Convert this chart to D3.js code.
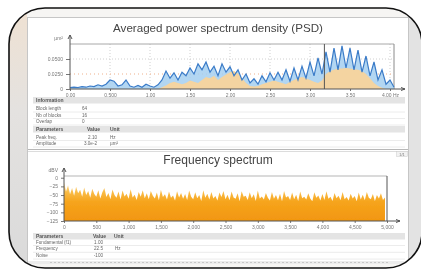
<!DOCTYPE html>
<html>
<head>
<meta charset="utf-8">
<script src="https://cdn.jsdelivr.net/npm/d3@7"></script>
<style>
  html, body { margin: 0; padding: 0; background: #fff; }
  svg { display: block; font-family: "Liberation Sans", Arial, sans-serif; }
</style>
</head>
<body>
<script>
// ---- data: averaged PSD (µm²), one value every 0.05 Hz from 0 Hz
const psdStep = 0.05;
const psdBlue = [
  0.0025, 0.003, 0.0025, 0.004, 0.003, 0.005, 0.004, 0.007, 0.005, 0.008,
  0.015, 0.013, 0.005, 0.007, 0.015, 0.005, 0.003, 0.006, 0.003, 0.008,
  0.005, 0.003, 0.007, 0.015, 0.030, 0.018, 0.027, 0.015, 0.028, 0.022,
  0.035, 0.025, 0.042, 0.032, 0.045, 0.028, 0.038, 0.022, 0.042, 0.028,
  0.037, 0.022, 0.032, 0.015, 0.025, 0.010, 0.017, 0.008, 0.022, 0.012,
  0.027, 0.015, 0.028, 0.015, 0.032, 0.013, 0.035, 0.015, 0.038, 0.018,
  0.045, 0.022, 0.052, 0.025, 0.062, 0.028, 0.068, 0.032, 0.072, 0.035,
  0.068, 0.032, 0.065, 0.028, 0.055, 0.022, 0.045, 0.015, 0.032, 0.008,
  0.015, 0.003
];
const psdOrange = [
  0, 0, 0, 0, 0, 0, 0, 0, 0, 0,
  0, 0, 0, 0, 0, 0, 0, 0, 0, 0,
  0, 0, 0, 0.003, 0.006, 0.010, 0.012, 0.010, 0.008, 0.010,
  0.014, 0.012, 0.010, 0.015, 0.020, 0.018, 0.022, 0.015, 0.020, 0.024,
  0.028, 0.030, 0.026, 0.018, 0.010, 0.005, 0.004, 0.005, 0.008, 0.010,
  0.012, 0.014, 0.012, 0.010, 0.008, 0.012, 0.015, 0.018, 0.020, 0.018,
  0.015, 0.012, 0.010, 0.014, 0.025, 0.030, 0.032, 0.034, 0.034, 0.035,
  0.034, 0.033, 0.032, 0.030, 0.025, 0.018, 0.010, 0.005, 0.002, 0,
  0, 0
];
const psdCursor = 3.18;
const psdXTicks = [0, 0.5, 1, 1.5, 2, 2.5, 3, 3.5, 4];
const psdXLabels = ['0.00', '0.500', '1.00', '1.50', '2.00', '2.50', '3.00', '3.50', '4.00 Hz'];
const psdYTicks = [0, 0.025, 0.05];
const psdYLabels = ['0', '0.0250', '0.0500'];

// ---- data: frequency spectrum (dBV), one value every 31.25 Hz
const specStep = 31.25;
const specDb = [
  -12, -40, -22, -48, -30, -52, -26, -45, -35, -55, -28, -50, -38, -58, -32, -47, -55, -36, -60, -42,
  -30, -56, -44, -62, -34, -50, -58, -40, -63, -37, -54, -46, -61, -33, -57, -49, -64, -41, -55, -36,
  -59, -45, -62, -38, -52, -60, -43, -65, -35, -56, -48, -63, -40, -58, -51, -66, -39, -57, -44, -61,
  -47, -64, -37, -55, -62, -42, -59, -50, -67, -36, -58, -46, -63, -41, -60, -53, -66, -43, -56, -38,
  -62, -49, -65, -40, -57, -61, -45, -68, -39, -55, -52, -64, -42, -59, -48, -67, -37, -60, -54, -63,
  -44, -58, -66, -41, -61, -50, -65, -46, -68, -38, -57, -53, -64, -43, -62, -49, -67, -40, -59, -55,
  -63, -45, -60, -68, -42, -58, -51, -66, -47, -64, -39, -61, -55, -67, -44, -59, -52, -65, -41, -62,
  -56, -66, -46, -60, -53, -68, -43, -63, -49, -65, -41, -58, -62, -47, -67, -50, -60, -45, -64, -57
];
const specXTicks = [0, 500, 1000, 1500, 2000, 2500, 3000, 3500, 4000, 4500, 5000];
const specYTicks = [0, -25, -50, -75, -100, -125];

// ---- tables
const infoRows = [['Block length', '64'], ['Nb of blocks', '16'], ['Overlap', '0']];
const psdParams = [['Peak freq.', '2.10', 'Hz'], ['Amplitude', '3.0e-2', 'µm²']];
const specParams = [['Fundamental (f1)', '1.00', ''], ['Frequency', '22.5', 'Hz'], ['Noise', '-100', '']];

const W = 421, H = 269;
const svg = d3.select('body').append('svg')
  .attr('width', W)
  .attr('height', H);

const defs = svg.append('defs');
// slight softness, the source is a downscaled screenshot
defs.append('filter').attr('id', 'soft')
  .append('feGaussianBlur').attr('stdDeviation', 0.35);

// clip to the rounded frame
defs.append('clipPath').attr('id', 'frameClip')
  .append('rect')
    .attr('x', 9).attr('y', 8).attr('width', 413).attr('height', 260).attr('rx', 36);

const root = svg.append('g')
  .attr('clip-path', 'url(#frameClip)')
  .append('g')
  .attr('filter', 'url(#soft)');

root.append('rect').attr('x', 0).attr('y', 0).attr('width', W).attr('height', H).attr('fill', '#f6f5f3');
// left blurred strip
const lg = defs.append('linearGradient').attr('id', 'leftStrip')
  .attr('x1', 0).attr('y1', 0).attr('x2', 0).attr('y2', 1);
lg.append('stop').attr('offset', '0%').attr('stop-color', '#efe1d2');
lg.append('stop').attr('offset', '40%').attr('stop-color', '#e4e2e0');
lg.append('stop').attr('offset', '100%').attr('stop-color', '#dadada');
root.append('rect').attr('x', 9).attr('y', 8).attr('width', 18).attr('height', 260).attr('fill', 'url(#leftStrip)');
// right strip
root.append('rect').attr('x', 409).attr('y', 8).attr('width', 14).attr('height', 260).attr('fill', '#e3e3e3');

// app window
root.append('rect').attr('x', 27.5).attr('y', 17.5).attr('width', 381).attr('height', 246)
  .attr('fill', '#fff').attr('stroke', '#c6c6c6');

// ===== top panel: PSD =====
root.append('text')
  .attr('x', 218).attr('y', 32)
  .attr('text-anchor', 'middle')
  .attr('font-size', 11.6)
  .attr('fill', '#444')
  .text('Averaged power spectrum density (PSD)');

const xPsd = d3.scaleLinear().domain([0, 4.05]).range([70, 394]);
const yPsd = d3.scaleLinear().domain([0, 0.075]).range([89, 44]);
const psd = psdBlue.map((v, i) => ({f: i * psdStep, b: v, o: psdOrange[i]}));

// grid
root.append('g').selectAll('line').data(psdXTicks.slice(1))
  .enter().append('line')
    .attr('x1', d => xPsd(d)).attr('x2', d => xPsd(d))
    .attr('y1', yPsd(0.075)).attr('y2', yPsd(0))
    .attr('stroke', '#cfcfcf').attr('stroke-dasharray', '1,2');
root.append('line')
  .attr('x1', xPsd(0)).attr('x2', xPsd(4.05))
  .attr('y1', yPsd(0.05)).attr('y2', yPsd(0.05))
  .attr('stroke', '#d0d0d0').attr('stroke-dasharray', '1,2');
root.append('line')
  .attr('x1', xPsd(0)).attr('x2', xPsd(4.05))
  .attr('y1', yPsd(0.025)).attr('y2', yPsd(0.025))
  .attr('stroke', '#efb08a').attr('stroke-dasharray', '1,3');
root.append('line')
  .attr('x1', xPsd(0)).attr('x2', xPsd(4.05))
  .attr('y1', yPsd(0.075)).attr('y2', yPsd(0.075))
  .attr('stroke', '#a8a8a8');
root.append('line')
  .attr('x1', xPsd(4.05)).attr('x2', xPsd(4.05))
  .attr('y1', yPsd(0.075)).attr('y2', yPsd(0))
  .attr('stroke', '#8a8a8a');

const blueArea = d3.area().x(d => xPsd(d.f)).y0(yPsd(0)).y1(d => yPsd(d.b));
const orangeArea = d3.area().x(d => xPsd(d.f)).y0(yPsd(0)).y1(d => yPsd(d.o));
const blueLine = d3.line().x(d => xPsd(d.f)).y(d => yPsd(d.b));

root.append('path').attr('d', blueArea(psd)).attr('fill', '#a5cff0').attr('opacity', 0.85);
root.append('path').attr('d', orangeArea(psd)).attr('fill', '#f8d49c').attr('opacity', 0.95);
root.append('path').attr('d', blueLine(psd))
  .attr('fill', 'none').attr('stroke', '#3a7bc8').attr('stroke-width', 1.2);

// cursor
root.append('line')
  .attr('x1', xPsd(psdCursor)).attr('x2', xPsd(psdCursor))
  .attr('y1', yPsd(0.075)).attr('y2', yPsd(0))
  .attr('stroke', '#555').attr('stroke-width', 1);

// axes
function styleAxis(g) {
  g.select('.domain').remove();
  g.selectAll('line').attr('stroke', '#777');
  g.selectAll('text').attr('fill', '#777').attr('font-size', 5).attr('font-family', '"Liberation Sans", Arial, sans-serif');
}
root.append('g')
  .attr('transform', 'translate(' + xPsd(0) + ',0)')
  .call(d3.axisLeft(yPsd).tickValues(psdYTicks).tickSize(4).tickPadding(3)
    .tickFormat((d, i) => psdYLabels[i]))
  .call(styleAxis);
root.append('g')
  .attr('transform', 'translate(0,' + yPsd(0) + ')')
  .call(d3.axisBottom(xPsd).tickValues(psdXTicks).tickSize(2).tickPadding(2)
    .tickFormat((d, i) => psdXLabels[i]))
  .call(styleAxis);
root.append('text').attr('x', xPsd(0) - 7).attr('y', 40).attr('text-anchor', 'end')
  .attr('font-size', 5).attr('fill', '#777').text('µm²');

function arrowAxes(x0, y0, yTop, xRight) {
  root.append('line').attr('x1', x0).attr('x2', x0).attr('y1', y0).attr('y2', yTop)
    .attr('stroke', '#555');
  root.append('path').attr('d', `M${x0 - 2},${yTop + 4}L${x0},${yTop}L${x0 + 2},${yTop + 4}`)
    .attr('fill', 'none').attr('stroke', '#555');
  root.append('line').attr('x1', x0).attr('x2', xRight).attr('y1', y0).attr('y2', y0)
    .attr('stroke', '#555');
  root.append('path').attr('d', `M${xRight - 4},${y0 - 1.5}L${xRight},${y0}L${xRight - 4},${y0 + 1.5}`)
    .attr('fill', 'none').attr('stroke', '#555');
}
arrowAxes(xPsd(0), yPsd(0), 35, 405);

// tables
function headerBand(y, cols) {
  root.append('rect').attr('x', 33).attr('y', y - 5).attr('width', 372).attr('height', 6.5)
    .attr('fill', '#e4e4e4');
  cols.forEach(c => {
    root.append('text').attr('x', c[0]).attr('y', y).attr('text-anchor', c[2] || 'start')
      .attr('font-size', 5).attr('font-weight', 'bold').attr('fill', '#555').text(c[1]);
  });
}
function rowLines(y) {
  root.append('line').attr('x1', 33).attr('x2', 405).attr('y1', y + 2).attr('y2', y + 2)
    .attr('stroke', '#ececec');
}
function smallText(x, y, t, anchor) {
  root.append('text').attr('x', x).attr('y', y).attr('text-anchor', anchor || 'start')
    .attr('font-size', 4.6).attr('fill', '#666').text(t);
}

headerBand(102, [[36, 'Information']]);
infoRows.forEach((r, i) => {
  const y = 110 + i * 6.5;
  smallText(36, y, r[0]);
  smallText(82, y, r[1]);
  rowLines(y);
});
headerBand(131, [[36, 'Parameters'], [87, 'Value'], [110, 'Unit']]);
psdParams.forEach((r, i) => {
  const y = 138.5 + i * 6.5;
  smallText(36, y, r[0]);
  smallText(97, y, r[1], 'end');
  smallText(110, y, r[2]);
  rowLines(y);
});

// panel separator
root.append('line').attr('x1', 28).attr('x2', 408).attr('y1', 149.5).attr('y2', 149.5).attr('stroke', '#b8b8b8');
root.append('line').attr('x1', 28).attr('x2', 408).attr('y1', 151.5).attr('y2', 151.5).attr('stroke', '#dcdcdc');
root.append('rect').attr('x', 396.5).attr('y', 151.5).attr('width', 11).attr('height', 5)
  .attr('fill', '#f2f2f2').attr('stroke', '#ccc').attr('stroke-width', 0.5);
root.append('text').attr('x', 402).attr('y', 155.5).attr('text-anchor', 'middle')
  .attr('font-size', 3.8).attr('fill', '#777').text('1/1');

// ===== bottom panel: frequency spectrum =====
root.append('text')
  .attr('x', 218).attr('y', 164)
  .attr('text-anchor', 'middle')
  .attr('font-size', 12)
  .attr('fill', '#444')
  .text('Frequency spectrum');

const xSpec = d3.scaleLinear().domain([0, 5000]).range([64, 387]);
const ySpec = d3.scaleLinear().domain([-125, 5]).range([221, 176]);

const sg = defs.append('linearGradient').attr('id', 'specFill')
  .attr('gradientUnits', 'userSpaceOnUse')
  .attr('x1', 0).attr('y1', ySpec(-125)).attr('x2', 0).attr('y2', ySpec(-15));
sg.append('stop').attr('offset', '0%').attr('stop-color', '#f29610');
sg.append('stop').attr('offset', '50%').attr('stop-color', '#f6a41c');
sg.append('stop').attr('offset', '75%').attr('stop-color', '#f9bb45');
sg.append('stop').attr('offset', '100%').attr('stop-color', '#fde0a0');

root.append('line')
  .attr('x1', xSpec(0)).attr('x2', xSpec(5000))
  .attr('y1', ySpec(5)).attr('y2', ySpec(5))
  .attr('stroke', '#b5b5b5');

const specArea = d3.area()
  .x((d, i) => xSpec(i * specStep))
  .y0(ySpec(-125))
  .y1(d => ySpec(d));
root.append('path').datum(specDb)
  .attr('d', specArea)
  .attr('fill', 'url(#specFill)');

root.append('line')
  .attr('x1', xSpec(5000)).attr('x2', xSpec(5000))
  .attr('y1', ySpec(5)).attr('y2', ySpec(-125))
  .attr('stroke', '#555');

root.append('g')
  .attr('transform', 'translate(' + xSpec(0) + ',0)')
  .call(d3.axisLeft(ySpec).tickValues(specYTicks).tickSize(3).tickPadding(3))
  .call(styleAxis);
root.append('g')
  .attr('transform', 'translate(0,' + ySpec(-125) + ')')
  .call(d3.axisBottom(xSpec).tickValues(specXTicks).tickSize(2).tickPadding(2))
  .call(styleAxis);
root.append('text').attr('x', xSpec(0) - 6).attr('y', 172).attr('text-anchor', 'end')
  .attr('font-size', 5).attr('fill', '#777').text('dBV');
arrowAxes(xSpec(0), ySpec(-125), 168, 400);

headerBand(238, [[36, 'Parameters'], [93, 'Value'], [114, 'Unit']]);
specParams.forEach((r, i) => {
  const y = 243.5 + i * 6.8;
  smallText(36, y, r[0]);
  smallText(103, y, r[1], 'end');
  smallText(115, y, r[2]);
  rowLines(y);
});

// bottom scroll strip
root.append('rect').attr('x', 28).attr('y', 261).attr('width', 380).attr('height', 3).attr('fill', '#ececec');
root.append('line').attr('x1', 50).attr('x2', 390).attr('y1', 262.5).attr('y2', 262.5)
  .attr('stroke', '#c8c8c8').attr('stroke-dasharray', '2,2');

// frame stroke on top
svg.append('rect')
  .attr('x', 9).attr('y', 8).attr('width', 413).attr('height', 260).attr('rx', 36)
  .attr('fill', 'none').attr('stroke', '#111').attr('stroke-width', 1.6);
</script>
</body>
</html>
